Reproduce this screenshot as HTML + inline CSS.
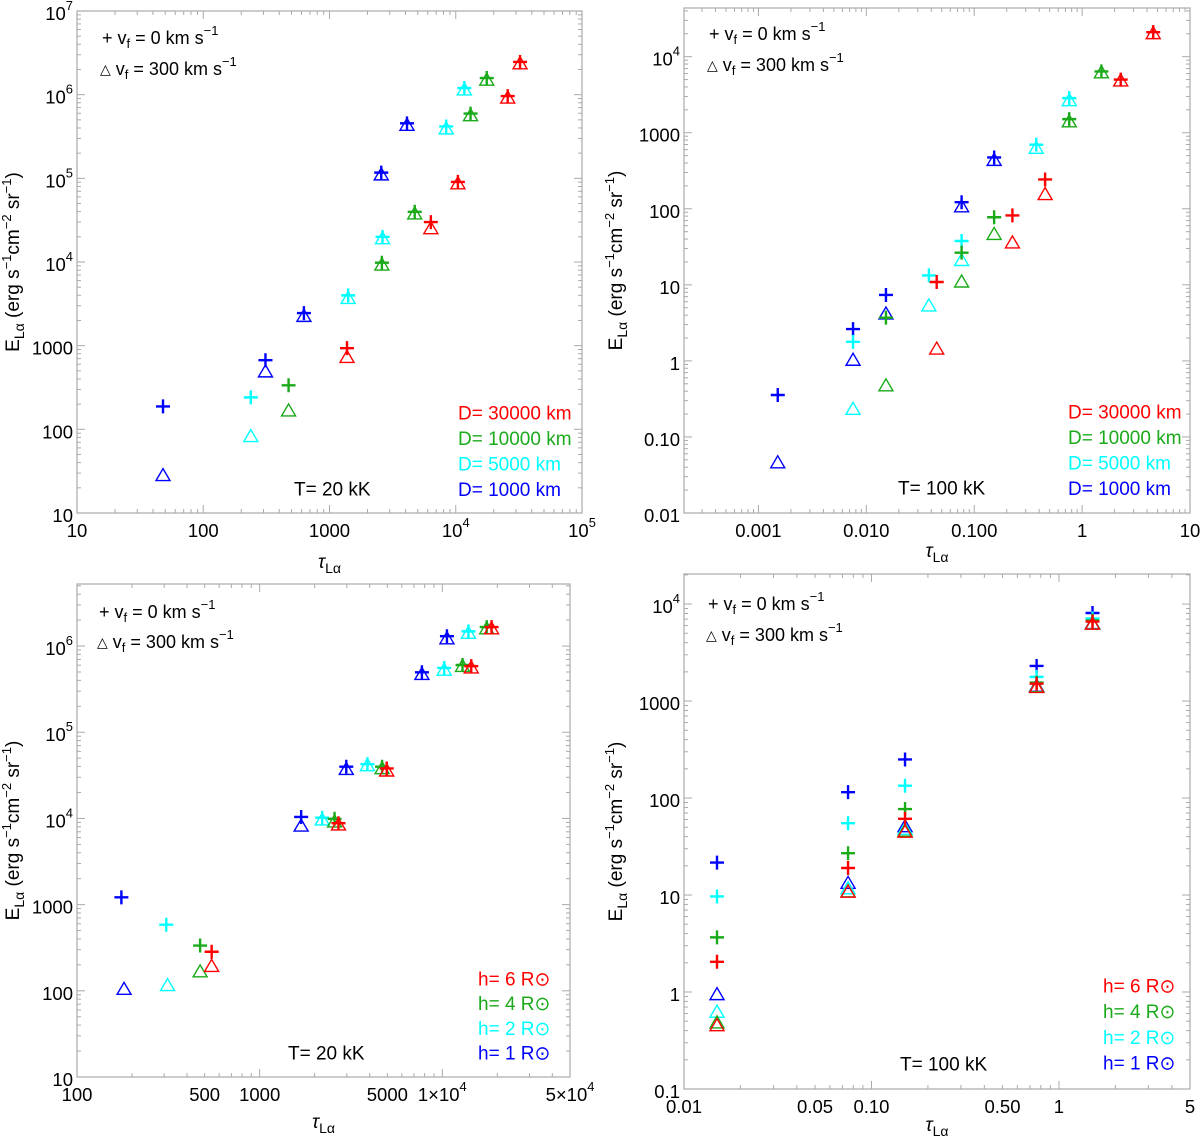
<!DOCTYPE html>
<html><head><meta charset="utf-8">
<style>
html,body{margin:0;padding:0;background:#fff;}
svg{display:block;font-family:"Liberation Sans","DejaVu Sans",sans-serif;}
</style></head>
<body>
<svg id="chart" width="1200" height="1139" viewBox="0 0 1200 1139" xmlns="http://www.w3.org/2000/svg"></svg>
<script>
// ---------- data ----------
const colors = ['#ff0000', '#1aaa1a', '#00ffff', '#0000ff'];
// Panel 1 (T=20 kK, D varies). series index: 0 red,1 green,2 cyan,3 blue
const p1Series = [3,3,3,3,3, 2,2,2,2,2, 1,1,1,1,1, 0,0,0,0,0];
const p1Tau   = [48,311,627,2570,4110, 238,1406,2630,8400,11700, 474,2600,4730,13100,17600, 1376,6350,10400,25800,32300];
const p1Plus  = [188,670,2450,117000,454000, 241,3990,20000,417000,1200000, 336,9800,39800,594000,1580000, 933,30000,90600,962000,2460000];
const p1Tri   = [28,486,2240,110000,430000, 82,3670,19000,390000,1140000, 166,9200,37500,560000,1490000, 724,25000,86000,912000,2340000];
// Panel 2 (T=100 kK, D varies)
const p2Series = [3,3,3,3,3, 2,2,2,2,2, 1,1,1,1,1, 0,0,0,0,0];
const p2Tau   = [0.00151,0.00753,0.0152,0.0764,0.153, 0.00753,0.038,0.0764,0.376,0.76, 0.0152,0.0764,0.153,0.76,1.51, 0.0449,0.226,0.454,2.28,4.56];
const p2Plus  = [0.356,2.62,7.36,122,473, 1.78,13.3,37.7,697,2850, 3.7,26.5,77.4,1510,6400, 10.9,81.8,243,5000,21000];
const p2Tri   = [0.0457,1.02,4.14,106,433, 0.231,5.28,20.9,624,2640, 0.47,10.9,46,1390,6140, 1.43,35.6,154,4800,20100];
// Panel 3 (T=20 kK, h varies)
const p3Series = [3,2,1,0, 3,2,1,0, 3,2,1,0, 3,2,1,0, 3,2,1,0];
const p3Tau   = [175,308,472,546, 1687,2200,2570,2700, 2980,3890,4680,4960, 7730,10240,12900,14400, 10600,13900,17500,18600];
const p3TriTau= [181,313,472,546, 1687,2200,2570,2700, 2980,3890,4680,4960, 7730,10240,12900,14400, 10600,13900,17500,18600];
const p3Plus  = [1215,585,335,284, 10400,10200,9900,8800, 39800,42600,39800,38000, 496000,557000,603000,585000, 1300000,1480000,1660000,1660000];
const p3Tri   = [104,115,166,192, 8150,9600,9100,8400, 37000,41000,37800,35500, 468000,525000,580000,558000, 1215000,1406000,1585000,1585000];
// Panel 4 (T=100 kK, h varies)
const p4Series = [3,2,1,0, 3,2,1,0, 3,2,1,0, 3,2,1,0, 3,2,1,0];
const p4Tau   = [0.015,0.015,0.015,0.015, 0.075,0.075,0.075,0.075, 0.151,0.151,0.151,0.151, 0.76,0.76,0.76,0.76, 1.51,1.51,1.51,1.51];
const p4Plus  = [21.6,9.66,3.66,2.05, 115,55,27,19, 250,134,77,61, 2300,1775,1550,1510, 8090,7100,6770,6600];
const p4Tri   = [0.94,0.62,0.48,0.45, 13.2,11.6,10.8,10.7, 50.6,47.6,45.6,44.5, 1420,1400,1400,1380, 6300,6240,6240,6200];
// tick labels
const p1XTicks = [[10,'10'],[100,'100'],[1000,'1000'],[1e4,'10^4'],[1e5,'10^5']];
const p1YTicks = [[10,'10'],[100,'100'],[1000,'1000'],[1e4,'10^4'],[1e5,'10^5'],[1e6,'10^6'],[1e7,'10^7']];
const p2XTicks = [[0.001,'0.001'],[0.01,'0.010'],[0.1,'0.100'],[1,'1'],[10,'10']];
const p2YTicks = [[0.01,'0.01'],[0.1,'0.10'],[1,'1'],[10,'10'],[100,'100'],[1000,'1000'],[1e4,'10^4']];
const p3XTicks = [[100,'100'],[500,'500'],[1000,'1000'],[5000,'5000'],[1e4,'1×10^4'],[5e4,'5×10^4']];
const p3YTicks = [[10,'10'],[100,'100'],[1000,'1000'],[1e4,'10^4'],[1e5,'10^5'],[1e6,'10^6']];
const p4XTicks = [[0.01,'0.01'],[0.05,'0.05'],[0.1,'0.10'],[0.5,'0.50'],[1,'1'],[5,'5']];
const p4YTicks = [[0.1,'0.1'],[1,'1'],[10,'10'],[100,'100'],[1000,'1000'],[1e4,'10^4']];
const dLegend = ['D= 30000 km','D= 10000 km','D= 5000 km','D= 1000 km'];
const hLegend = ['h= 6 R⊙','h= 4 R⊙','h= 2 R⊙','h= 1 R⊙'];

// ---------- drawing ----------
const NS='http://www.w3.org/2000/svg';
const svg=document.getElementById('chart');
function mk(tag,attrs,parent){const e=document.createElementNS(NS,tag);for(const k in attrs)e.setAttribute(k,attrs[k]);(parent||svg).appendChild(e);return e;}
function richText(parent,x,y,str,size,anchor,fill){
  const t=mk('text',{x:x,y:y,'font-size':size,'text-anchor':anchor||'middle','dominant-baseline':'central',fill:fill||'#000'},parent);
  const parts=str.split('^');
  mk('tspan',{},t).textContent=parts[0];
  if(parts[1]!==undefined){const s=mk('tspan',{dy:-8,'font-size':size*0.7},t);s.textContent=parts[1];}
  return t;
}

function panel(id,cfg){
  const g=mk('g',{});
  
  
  const {L,R,T,B,x0,x1,y0,y1}=cfg;
  const sx=v=>L+(Math.log10(v)-x0)/(x1-x0)*(R-L);
  const sy=v=>B-(Math.log10(v)-y0)/(y1-y0)*(B-T);
  const fr=mk('rect',{x:L,y:T,width:R-L,height:B-T,fill:'none',stroke:'#aaa','stroke-width':1.2},g);
  
  
  const tg=mk('g',{stroke:'#aaa','stroke-width':1},g);
  
  
  for(let d=Math.floor(x0);d<=Math.ceil(x1);d++){
    for(let m=1;m<10;m++){
      const v=m*Math.pow(10,d);const lv=Math.log10(v);
      if(lv<x0-1e-6||lv>x1+1e-6)continue;
      const x=sx(v);const len=m===1?8:4;
      mk('line',{x1:x,y1:B,x2:x,y2:B-len},tg);mk('line',{x1:x,y1:T,x2:x,y2:T+len},tg);
    }
  }
  for(let d=Math.floor(y0);d<=Math.ceil(y1);d++){
    for(let m=1;m<10;m++){
      const v=m*Math.pow(10,d);const lv=Math.log10(v);
      if(lv<y0-1e-6||lv>y1+1e-6)continue;
      const y=sy(v);const len=m===1?8:4;
      mk('line',{x1:L,y1:y,x2:L+len,y2:y},tg);mk('line',{x1:R,y1:y,x2:R-len,y2:y},tg);
    }
  }
  const xl=mk('g',{},g);
  
  
  cfg.xt.forEach(([v,s])=>richText(xl,sx(v),B+17,s,18.5,'middle'));
  const yl=mk('g',{},g);
  
  
  cfg.yt.forEach(([v,s])=>richText(yl,L-4,sy(v)+2,s,18.5,'end'));
  const xt=mk('text',{x:(L+R)/2,y:cfg.xty,'font-size':19,'text-anchor':'middle'},g);
  
  
  mk('tspan',{'font-style':'italic'},xt).textContent='τ';
  mk('tspan',{dy:5,'font-size':14},xt).textContent='Lα';
  const ym=(T+B)/2;
  const yt=mk('text',{x:0,y:0,'font-size':19,'text-anchor':'middle',transform:`translate(${cfg.ylx},${ym}) rotate(-90)`},g);
  
  
  mk('tspan',{},yt).textContent='E';
  mk('tspan',{dy:5,'font-size':14},yt).textContent='Lα';
  mk('tspan',{dy:-5},yt).textContent='  (erg s';
  mk('tspan',{dy:-8,'font-size':13},yt).textContent='−1';
  mk('tspan',{dy:8},yt).textContent='cm';
  mk('tspan',{dy:-8,'font-size':13},yt).textContent='−2';
  mk('tspan',{dy:8},yt).textContent=' sr';
  mk('tspan',{dy:-8,'font-size':13},yt).textContent='−1';
  mk('tspan',{dy:8},yt).textContent=')';
  const mg=mk('g',{fill:'none','stroke-width':1.4},g);
  
  
  cfg.tau.forEach((tv,i)=>{
    const c=colors[cfg.ser[i]];
    const tx=sx(cfg.triTau?cfg.triTau[i]:tv), ty=sy(cfg.tri[i]);
    const tri=mk('path',{d:`M${tx},${ty-7} L${tx+7},${ty+5} L${tx-7},${ty+5} Z`,stroke:c},mg);
    
    
    const px=sx(tv), py=sy(cfg.plus[i]);
    const pl=mk('path',{d:`M${px-7},${py} H${px+7} M${px},${py-7} V${py+7}`,stroke:c,'stroke-width':2.4},mg);
    
    
  });
  const lg=mk('g',{},g);
  
  
  const [lx,ly1,ly2]=cfg.leg;
  const t1=mk('text',{x:lx,y:ly1,'font-size':18,'dominant-baseline':'central'},lg);
  mk('tspan',{},t1).textContent='+ v';mk('tspan',{dy:5,'font-size':13},t1).textContent='f';
  mk('tspan',{dy:-5},t1).textContent=' = 0 km s';mk('tspan',{dy:-8,'font-size':13},t1).textContent='−1';
  const t2=mk('text',{x:lx-2,y:ly2,'font-size':18,'dominant-baseline':'central'},lg);
  mk('tspan',{'font-size':14},t2).textContent='△';mk('tspan',{},t2).textContent=' v';mk('tspan',{dy:5,'font-size':13},t2).textContent='f';
  mk('tspan',{dy:-5},t2).textContent=' = 300 km s';mk('tspan',{dy:-8,'font-size':13},t2).textContent='−1';
  const cl=mk('g',{},g);
  
  
  cfg.labels.forEach((s,i)=>{
    const e=mk('text',{x:cfg.cl[0],y:cfg.cl[1]+i*cfg.cl[2],'font-size':19,'dominant-baseline':'central',fill:colors[i]},cl);
    e.textContent=s;
    
    
  });
  const te=mk('text',{x:cfg.tl[0],y:cfg.tl[1],'font-size':19,'dominant-baseline':'central'},g);
  te.textContent=cfg.tlabel;
  
  
}

panel('panel-top-left',{L:77,R:582,T:11,B:513,x0:1,x1:5,y0:1,y1:7,xt:p1XTicks,yt:p1YTicks,ylx:19,xty:568,
  tau:p1Tau,plus:p1Plus,tri:p1Tri,ser:p1Series,leg:[102,38,69],labels:dLegend,cl:[458,414,25.5],tl:[294,490],tlabel:'T= 20 kK'});
panel('panel-top-right',{L:684,R:1190,T:8,B:513,x0:-3.69,x1:1,y0:-2,y1:4.64,xt:p2XTicks,yt:p2YTicks,ylx:622,xty:557,
  tau:p2Tau,plus:p2Plus,tri:p2Tri,ser:p2Series,leg:[709,34,65],labels:dLegend,cl:[1068,413,25.5],tl:[898,489],tlabel:'T= 100 kK'});
panel('panel-bottom-left',{L:77,R:570,T:584,B:1077,x0:2,x1:Math.log10(5e4),y0:1,y1:6.72,xt:p3XTicks,yt:p3YTicks,ylx:19,xty:1128,
  tau:p3Tau,triTau:p3TriTau,plus:p3Plus,tri:p3Tri,ser:p3Series,leg:[99,612,642],labels:hLegend,cl:[478,980,24.7],tl:[288,1054],tlabel:'T= 20 kK'});
panel('panel-bottom-right',{L:684,R:1190,T:574,B:1089,x0:-2,x1:Math.log10(5),y0:-1,y1:4.31,xt:p4XTicks,yt:p4YTicks,ylx:622,xty:1131,
  tau:p4Tau,plus:p4Plus,tri:p4Tri,ser:p4Series,leg:[708,604,635],labels:hLegend,cl:[1103,987,25.7],tl:[900,1065],tlabel:'T= 100 kK'});
</script>
</body></html>
